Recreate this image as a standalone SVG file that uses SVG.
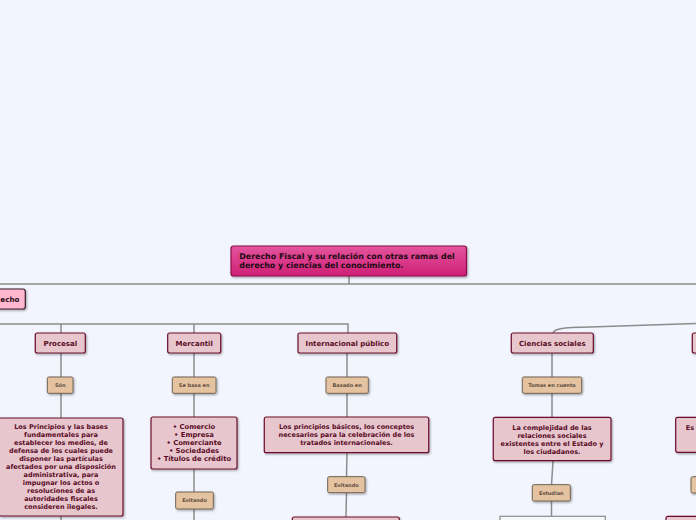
<svg xmlns="http://www.w3.org/2000/svg" width="696" height="520" viewBox="0 0 696 520">
<defs>
<linearGradient id="rootg" x1="0" y1="0" x2="0" y2="1">
<stop offset="0" stop-color="#E4559D"/>
<stop offset="1" stop-color="#CF1F77"/>
</linearGradient>
<filter id="sh" x="-10%" y="-10%" width="130%" height="140%">
<feDropShadow dx="1" dy="1.2" stdDeviation="0.8" flood-color="#000" flood-opacity="0.35"/>
</filter>
<style>
.ln{fill:none;stroke:#8c8c8c;stroke-width:1.5}
.node rect{fill:#E7C6CD;stroke:#6C0E2E;stroke-width:1.2;filter:url(#sh)}
.node text{font-family:"DejaVu Sans",Verdana,sans-serif;font-weight:bold;fill:#5A0C26;text-anchor:middle}
.nl{font-size:7px}
.ct{font-size:6.5px}
.lab rect{fill:#E6C3A0;stroke:#6e6354;stroke-width:1;filter:url(#sh)}
.lab text{font-family:"DejaVu Sans",Verdana,sans-serif;font-weight:bold;font-size:5px;fill:#5c4e40;text-anchor:middle}
</style>
</defs>
<rect width="696" height="520" fill="#F2F5FE"/>

<g id="connectors">
<path class="ln" d="M349,276 V284 M0,284 H696"/>
<path class="ln" d="M0,324 H348 V333 M61,324 V333 M194,324 V333"/>
<path class="ln" d="M61,353 V377 M61,393 V418 M61,516 V520"/>
<path class="ln" d="M194,353 V377 M194,393 V417 M194,469 V492 M194,509 V520"/>
<path class="ln" d="M347,353 V377 M347,393 V417 M347,453 L346.5,477 M346.5,493 L346,517"/>
<path class="ln" d="M552,353 V377 M552,393 V417 M553,461 L551.5,485 M551.5,501 V516"/>
<path class="ln" d="M553,333 C554,329 560,327.5 590,327 L696,323.5"/>
</g>

<g id="root">
<rect x="231" y="246" width="235.5" height="30" rx="2.5" fill="url(#rootg)" stroke="#8A0F48" stroke-width="1.2" filter="url(#sh)"/>
<text font-family="DejaVu Sans,Verdana,sans-serif" font-weight="bold" font-size="7.9" fill="#1E0A14"><tspan x="239.3" y="259">Derecho Fiscal y su relación con otras ramas del</tspan><tspan x="239.3" y="268.3">derecho y ciencias del conocimiento.</tspan></text>
</g>

<g id="derecho">
<rect x="-20" y="289" width="45.3" height="20" rx="2.5" fill="#FFB8CF" stroke="#3A1A28" stroke-width="1.2" filter="url(#sh)"/>
<text x="19.5" y="302" text-anchor="end" font-family="DejaVu Sans,Verdana,sans-serif" font-weight="bold" font-size="7.2" fill="#1E0A14">echo</text>
</g>

<g id="procesal" class="node">
<rect x="35.3" y="333" width="50" height="20" rx="2"/>
<text class="nl" x="60.3" y="346">Procesal</text>
</g>
<g id="mercantil" class="node">
<rect x="167.7" y="333" width="53" height="20" rx="2"/>
<text class="nl" x="194.2" y="346">Mercantil</text>
</g>
<g id="internacional" class="node">
<rect x="298" y="333" width="98.7" height="20" rx="2"/>
<text class="nl" x="347.3" y="346">Internacional público</text>
</g>
<g id="ciencias" class="node">
<rect x="511.3" y="333" width="82" height="20" rx="2"/>
<text class="nl" x="552.3" y="346">Ciencias sociales</text>
</g>
<g id="right-node" class="node">
<rect x="692.3" y="333" width="40" height="20" rx="2"/>
</g>

<g id="lab-son" class="lab">
<rect x="47.3" y="377" width="25.7" height="16.3" rx="1.5"/>
<text x="60.2" y="387">Són</text>
</g>
<g id="lab-sebasa" class="lab">
<rect x="172.3" y="377" width="43.7" height="16.3" rx="1.5"/>
<text x="194.2" y="387">Se basa en</text>
</g>
<g id="lab-basado" class="lab">
<rect x="326" y="377" width="42.3" height="16.3" rx="1.5"/>
<text x="347.2" y="387">Basado en</text>
</g>
<g id="lab-tomas" class="lab">
<rect x="522.3" y="377" width="59.4" height="16.3" rx="1.5"/>
<text x="552" y="387">Tomas en cuenta</text>
</g>
<g id="lab-evitando1" class="lab">
<rect x="175.7" y="492" width="37.6" height="17" rx="1.5"/>
<text x="194.5" y="502.4">Evitando</text>
</g>
<g id="lab-evitando2" class="lab">
<rect x="327.7" y="476.7" width="37.3" height="16" rx="1.5"/>
<text x="346.3" y="486.6">Evitando</text>
</g>
<g id="lab-estudian" class="lab">
<rect x="532.3" y="484.7" width="38" height="16.3" rx="1.5"/>
<text x="551.3" y="494.8">Estudian</text>
</g>
<g id="lab-right" class="lab">
<rect x="691" y="476.7" width="20" height="16.3" rx="1.5"/>
</g>

<g id="procesal-desc" class="node">
<rect x="-1" y="418" width="124" height="98" rx="2"/>
<text class="ct"><tspan x="61" y="428.5">Los Principios y las bases</tspan><tspan x="61" y="436.5">fundamentales para</tspan><tspan x="61" y="444.5">establecer los medios, de</tspan><tspan x="61" y="452.5">defensa de los cuales puede</tspan><tspan x="61" y="460.5">disponer las partículas</tspan><tspan x="61" y="468.5">afectados por una disposición</tspan><tspan x="61" y="476.5">administrativa, para</tspan><tspan x="61" y="484.5">impugnar los actos o</tspan><tspan x="61" y="492.5">resoluciones de as</tspan><tspan x="61" y="500.5">autoridades fiscales</tspan><tspan x="61" y="508.5">consideren ilegales.</tspan></text>
</g>

<g id="mercantil-desc" class="node">
<rect x="151" y="417" width="86" height="52" rx="2"/>
<text class="ct" style="font-size:6.8px"><tspan x="194" y="429">• Comercio</tspan><tspan x="194" y="437">• Empresa</tspan><tspan x="194" y="445.3">• Comerciante</tspan><tspan x="194" y="453.3">• Sociedades</tspan><tspan x="194" y="461.3">• Títulos de crédito</tspan></text>
</g>

<g id="internacional-desc" class="node">
<rect x="264.3" y="417" width="164.4" height="35.7" rx="2"/>
<text class="ct"><tspan x="346.5" y="429.3">Los principios básicos, los conceptos</tspan><tspan x="346.5" y="437.3">necesarios para la celebración de los</tspan><tspan x="346.5" y="445.3">tratados internacionales.</tspan></text>
</g>

<g id="ciencias-desc" class="node">
<rect x="493.3" y="417.3" width="117.7" height="43.4" rx="2"/>
<text class="ct"><tspan x="552" y="429.8">La complejidad de las</tspan><tspan x="552" y="437.8">relaciones sociales</tspan><tspan x="552" y="445.8">existentes entre el Estado y</tspan><tspan x="552" y="453.8">los ciudadanos.</tspan></text>
</g>

<g id="right-desc" class="node">
<rect x="675.7" y="417.3" width="60" height="35" rx="2"/>
<text class="ct" x="690" y="429.5">Es</text>
</g>

<g id="internacional-next" class="node">
<rect x="292.3" y="517" width="107" height="20" rx="2"/>
</g>
<g id="estudian-next">
<rect x="500" y="516.3" width="105.3" height="20" fill="#F7F8FC" stroke="#8c8c8c" stroke-width="1.2"/>
</g>
<g id="right-next" class="node">
<rect x="666" y="516.3" width="60" height="20" rx="2"/>
</g>
</svg>
